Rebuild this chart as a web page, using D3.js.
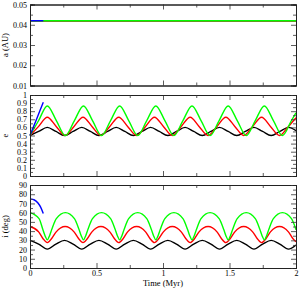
<!DOCTYPE html>
<html>
<head>
<meta charset="utf-8">
<script src="https://cdn.jsdelivr.net/npm/d3@7"></script>
<style>
  body { margin: 0; background: #fff; }
  svg { display: block; }
  text { font-family: "Liberation Serif", "DejaVu Serif", serif; fill: #000; }
</style>
</head>
<body>
<svg id="chart" width="299" height="289"></svg>
<script>
// tick values
const timeTicks = [0, 0.5, 1, 1.5, 2];
const aTicks = [0.01, 0.02, 0.03, 0.04, 0.05];
const eTicks = [0, 0.1, 0.2, 0.3, 0.4, 0.5, 0.6, 0.7, 0.8, 0.9, 1];
const iTicks = [0, 10, 20, 30, 40, 50, 60, 70, 80, 90];

// semi-major axis (AU) vs time (Myr)
const aBlack = [[0, 0.042], [2, 0.042]];
const aRed = [[0, 0.042], [2, 0.042]];
const aGreen = [[0, 0.042], [2, 0.042]];
const aBlue = [[0, 0.042], [0.1, 0.042]];

// eccentricity
const eBlack = [[0, .5], [.065, .55], [.13, .6], [.195, .55], [.2595, .5], [.324, .55], [.389, .6], [.454, .55],
  [.5185, .5], [.583, .55], [.648, .6], [.713, .55], [.7775, .5], [.842, .55], [.907, .6], [.972, .55],
  [1.0365, .5], [1.101, .55], [1.166, .6], [1.231, .55], [1.2955, .5], [1.36, .55], [1.425, .6], [1.49, .55],
  [1.5545, .5], [1.619, .55], [1.684, .6], [1.749, .55], [1.8135, .5], [1.878, .55], [1.943, .6], [2, .56]];
const eRed = [[0, .5], [.065, .6125], [.13, .725], [.197, .6125], [.264, .5], [.331, .6125], [.3985, .725], [.466, .6125],
  [.533, .5], [.6, .6125], [.667, .725], [.734, .6125], [.802, .5], [.869, .6125], [.9355, .725], [1.003, .6125],
  [1.07, .5], [1.137, .6125], [1.204, .725], [1.271, .6125], [1.339, .5], [1.406, .6125], [1.4725, .725], [1.54, .6125],
  [1.607, .5], [1.674, .6125], [1.741, .725], [1.808, .6125], [1.876, .5], [1.943, .6125], [2, .72]];
const eGreen = [[0, .5], [.065, .685], [.13, .865], [.198, .685], [.266, .5], [.334, .685], [.402, .865], [.47, .685],
  [.538, .5], [.606, .685], [.674, .865], [.742, .685], [.81, .5], [.878, .685], [.946, .865], [1.014, .685],
  [1.082, .5], [1.15, .685], [1.218, .865], [1.286, .685], [1.354, .5], [1.422, .685], [1.49, .865], [1.558, .685],
  [1.626, .5], [1.694, .685], [1.762, .865], [1.83, .685], [1.898, .5], [1.966, .685], [2, .78]];
const eBlue = [[0, .5], [.05, .705], [.1, .91]];

// inclination (deg)
const iBlack = [[0, 30], [.065, 26], [.13, 20.5], [.195, 26], [.2595, 30], [.324, 26], [.389, 20.5], [.454, 26],
  [.5185, 30], [.583, 26], [.648, 20.5], [.713, 26], [.7775, 30], [.842, 26], [.907, 20.5], [.972, 26],
  [1.0365, 30], [1.101, 26], [1.166, 20.5], [1.231, 26], [1.2955, 30], [1.36, 26], [1.425, 20.5], [1.49, 26],
  [1.5545, 30], [1.619, 26], [1.684, 20.5], [1.749, 26], [1.8135, 30], [1.878, 26], [1.943, 20.5], [2, 25]];
const iRed = [[0, 45], [.065, 39.2], [.097, 32], [.13, 27.5], [.163, 32], [.197, 39.2],
  [.264, 45], [.331, 39.2], [.365, 32], [.3985, 27.5], [.432, 32], [.466, 39.2],
  [.533, 45], [.6, 39.2], [.634, 32], [.667, 27.5], [.701, 32], [.734, 39.2],
  [.802, 45], [.869, 39.2], [.902, 32], [.9355, 27.5], [.969, 32], [1.003, 39.2],
  [1.07, 45], [1.137, 39.2], [1.171, 32], [1.204, 27.5], [1.238, 32], [1.271, 39.2],
  [1.339, 45], [1.406, 39.2], [1.439, 32], [1.4725, 27.5], [1.506, 32], [1.54, 39.2],
  [1.607, 45], [1.674, 39.2], [1.708, 32], [1.741, 27.5], [1.775, 32], [1.808, 39.2],
  [1.876, 45], [1.943, 39.2], [1.976, 32], [2, 28.5]];
const iGreen = [[0, 60], [.068, 53.5], [.096, 42], [.113, 35], [.13, 30.5], [.147, 35], [.164, 42], [.198, 53.5],
  [.266, 60], [.334, 53.5], [.368, 42], [.385, 35], [.402, 30.5], [.419, 35], [.436, 42], [.47, 53.5],
  [.538, 60], [.606, 53.5], [.64, 42], [.657, 35], [.674, 30.5], [.691, 35], [.708, 42], [.742, 53.5],
  [.81, 60], [.878, 53.5], [.912, 42], [.929, 35], [.946, 30.5], [.963, 35], [.98, 42], [1.014, 53.5],
  [1.082, 60], [1.15, 53.5], [1.184, 42], [1.201, 35], [1.218, 30.5], [1.235, 35], [1.252, 42], [1.286, 53.5],
  [1.354, 60], [1.422, 53.5], [1.456, 42], [1.473, 35], [1.49, 30.5], [1.507, 35], [1.524, 42], [1.558, 53.5],
  [1.626, 60], [1.694, 53.5], [1.728, 42], [1.745, 35], [1.762, 30.5], [1.779, 35], [1.796, 42], [1.83, 53.5],
  [1.898, 60], [1.966, 53.5], [2, 41.5]];
const iBlue = [[0, 75], [.03, 74], [.06, 70.5], [.08, 66], [.1, 59]];

const colors = { black: '#000000', red: '#ff0000', green: '#00ff00', blue: '#0000ff' };

const svg = d3.select('#chart');
const x = d3.scaleLinear().domain([0, 2]).range([30, 296]);

const panels = [
  {
    label: 'a (AU)', domain: [0.01, 0.05], range: [85.5, 4.5], ticks: aTicks, minorStep: 0.005,
    fmt: d3.format('.2f'),
    series: [[aBlack, 'black'], [aRed, 'red'], [aGreen, 'green'], [aBlue, 'blue']],
  },
  {
    label: 'e', domain: [0, 1], range: [176, 95], ticks: eTicks, minorStep: 0.05,
    fmt: d => String(+d.toFixed(2)),
    series: [[eBlack, 'black'], [eRed, 'red'], [eGreen, 'green'], [eBlue, 'blue']],
  },
  {
    label: 'i (deg)', domain: [0, 90], range: [268, 185], ticks: iTicks, minorStep: 5,
    fmt: d3.format('d'),
    series: [[iBlack, 'black'], [iRed, 'red'], [iGreen, 'green'], [iBlue, 'blue']],
  },
];

const minorTime = d3.range(0, 2.001, 0.25).filter(t => !timeTicks.includes(t));

panels.forEach((p, idx) => {
  const y = d3.scaleLinear().domain(p.domain).range(p.range);
  const [yb, yt] = p.range;
  const [lo, hi] = p.domain;
  const minorY = d3.range(lo, hi + p.minorStep / 2, p.minorStep)
    .filter(v => !p.ticks.some(t => Math.abs(t - v) < 1e-9));
  const isLast = idx === panels.length - 1;
  const g = svg.append('g').attr('class', 'panel');

  const line = d3.line()
    .x(d => x(d[0]))
    .y(d => y(d[1]))
    .curve(d3.curveMonotoneX);

  p.series.forEach(([data, c]) => {
    g.append('path')
      .datum(data)
      .attr('d', line)
      .attr('fill', 'none')
      .attr('stroke', colors[c])
      .attr('stroke-width', 1.4);
  });

  // bottom & top, ticks pointing in
  const bottom = g.append('g').attr('class', 'axis').attr('transform', `translate(0,${yb})`)
    .call(d3.axisBottom(x).tickValues(timeTicks).tickSize(-5).tickPadding(2.5)
      .tickFormat(isLast ? d3.format('') : ''));
  g.append('g').attr('transform', `translate(0,${yb})`)
    .call(d3.axisBottom(x).tickValues(minorTime).tickSize(-3).tickFormat(''));
  g.append('g').attr('transform', `translate(0,${yt})`)
    .call(d3.axisTop(x).tickValues(timeTicks).tickSize(-5).tickFormat(''));
  g.append('g').attr('transform', `translate(0,${yt})`)
    .call(d3.axisTop(x).tickValues(minorTime).tickSize(-3).tickFormat(''));

  // left & right
  g.append('g').attr('class', 'axis').attr('transform', `translate(${x(0)},0)`)
    .call(d3.axisLeft(y).tickValues(p.ticks).tickSize(-5).tickPadding(3).tickFormat(p.fmt));
  g.append('g').attr('transform', `translate(${x(0)},0)`)
    .call(d3.axisLeft(y).tickValues(minorY).tickSize(-3).tickFormat(''));
  g.append('g').attr('transform', `translate(${x(2)},0)`)
    .call(d3.axisRight(y).tickValues(p.ticks).tickSize(-5).tickFormat(''));
  g.append('g').attr('transform', `translate(${x(2)},0)`)
    .call(d3.axisRight(y).tickValues(minorY).tickSize(-3).tickFormat(''));

  g.selectAll('.domain').attr('stroke', '#222').attr('stroke-width', 1);
  g.selectAll('.tick line').attr('stroke', '#333').attr('stroke-width', 0.8);
  g.selectAll('.axis text').attr('font-size', 8).attr('font-family', '"Liberation Serif", serif');
  bottom.selectAll('text').attr('dy', '0.7em');

  g.append('text')
    .attr('transform', `translate(8,${(yb + yt) / 2}) rotate(-90)`)
    .attr('text-anchor', 'middle')
    .attr('font-size', 8.5)
    .text(p.label);
});

svg.append('text')
  .attr('x', x(1))
  .attr('y', 285.5)
  .attr('text-anchor', 'middle')
  .attr('font-size', 8.5)
  .text('Time (Myr)');
</script>
</body>
</html>
